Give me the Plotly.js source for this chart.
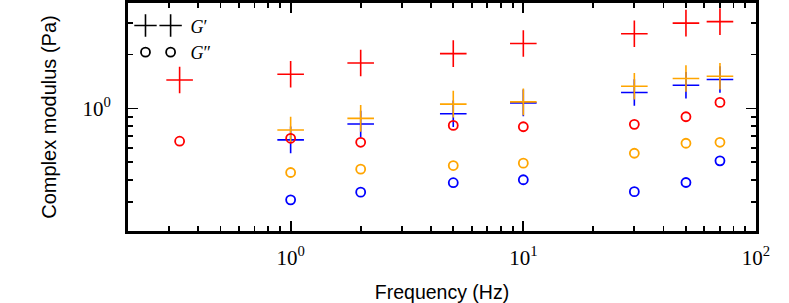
<!DOCTYPE html>
<html>
<head>
<meta charset="utf-8">
<script src="https://cdn.plot.ly/plotly-3.0.1.min.js"></script>
<style>html,body{margin:0;padding:0;background:#fff;}#chart{width:789px;height:303px;}</style>
</head>
<body>
<div id="chart"></div>
<script>
// Frequencies (Hz)
var freqLow = [1/3];
var freq = [1, 2, 5, 10, 30, 50, 70];

// Red sample (also measured at 1/3 Hz)
var redGp_low = [1.44];
var redGpp_low = [0.656];
var redGp  = [1.55, 1.79, 2.02, 2.30, 2.61, 2.99, 3.05];
var redGpp = [0.681, 0.647, 0.804, 0.79, 0.815, 0.898, 1.08];

// Orange sample
var orangeGp  = [0.758, 0.88, 1.056, 1.088, 1.33, 1.468, 1.51];
var orangeGpp = [0.439, 0.458, 0.48, 0.495, 0.562, 0.639, 0.647];

// Blue sample
var blueGp  = [0.667, 0.818, 0.933, 1.074, 1.227, 1.347, 1.45];
var blueGpp = [0.309, 0.341, 0.385, 0.40, 0.343, 0.386, 0.51];

var xTickVals = [1, 10, 100];
var xTickText = ['10<sup>0</sup>', '10<sup>1</sup>', '10<sup>2</sup>'];
var yTickVals = [1];
var yTickText = ['10<sup>0</sup>'];
var legendNames = ['<i>G</i>\u2032', '<i>G</i>\u2033'];

var RED = '#ff0000', ORANGE = '#ffa500', BLUE = '#0000ff';

function crossTrace(x, y, c) {
  return {x: x, y: y, type: 'scatter', mode: 'markers', showlegend: false, hoverinfo: 'skip',
    marker: {symbol: 'cross-thin', size: 19, color: c, line: {color: c, width: 1.6}}};
}
function circTrace(x, y, c) {
  return {x: x, y: y, type: 'scatter', mode: 'markers', showlegend: false, hoverinfo: 'skip',
    marker: {symbol: 'circle-open', size: 9, color: c, line: {color: c, width: 1.8}}};
}
function legTrace(sym, name, leg) {
  var isCross = sym === 'cross-thin';
  return {x: [null], y: [null], type: 'scatter', mode: 'markers', name: name, legend: leg,
    showlegend: true, hoverinfo: 'skip',
    marker: {symbol: sym, size: isCross ? 19 : 9, color: '#000', line: {color: '#000', width: isCross ? 1.6 : 1.8}}};
}

var data = [
  crossTrace(freq, blueGp, BLUE), circTrace(freq, blueGpp, BLUE),
  crossTrace(freq, orangeGp, ORANGE), circTrace(freq, orangeGpp, ORANGE),
  crossTrace(freqLow.concat(freq), redGp_low.concat(redGp), RED),
  circTrace(freqLow.concat(freq), redGpp_low.concat(redGpp), RED),
  legTrace('cross-thin', '', 'legend'), legTrace('cross-thin', legendNames[0], 'legend2'),
  legTrace('circle-open', '', 'legend3'), legTrace('circle-open', legendNames[1], 'legend4')
];

function minorVals(lo, hi) {
  var v = [];
  for (var e = lo; e <= hi; e++) for (var d = 2; d <= 9; d++) v.push(d * Math.pow(10, e));
  return v;
}

var axisCommon = {
  type: 'log', showgrid: false, zeroline: false, showline: true, linecolor: '#000', linewidth: 3,
  mirror: 'ticks', ticks: 'inside', ticklen: 10, tickwidth: 1.8, tickcolor: '#000',
  tickmode: 'array',
  tickfont: {family: 'Liberation Serif, DejaVu Serif, serif', size: 21, color: '#000'}
};

var legCommon = {
  orientation: 'h', bgcolor: 'rgba(0,0,0,0)', borderwidth: 0,
  font: {family: 'Liberation Serif, DejaVu Serif, serif', size: 18, color: '#000'},
  tracegroupgap: 0, itemwidth: 30,
  xanchor: 'left', yanchor: 'middle'
};

var layout = {
  width: 789, height: 303,
  margin: {l: 127.5, r: 32.5, t: 2.5, b: 71.5},
  paper_bgcolor: '#fff', plot_bgcolor: '#fff',
  showlegend: true,
  xaxis: Object.assign({}, axisCommon, {
    range: [Math.log10(0.2), 2],
    tickvals: xTickVals, ticktext: xTickText, ticklabelstandoff: 6,
    minor: {tickmode: 'array', tickvals: minorVals(-1, 1), ticks: 'inside', ticklen: 5, tickwidth: 1.8, tickcolor: '#000'},
    title: {text: 'Frequency (Hz)', font: {family: 'Liberation Sans, Arial, sans-serif', size: 19.5, color: '#000'}, standoff: 21}
  }),
  yaxis: Object.assign({}, axisCommon, {
    range: [-0.684, 0.588],
    tickvals: yTickVals, ticktext: yTickText, ticklabelstandoff: 10,
    minor: {tickmode: 'array', tickvals: minorVals(-1, 0), ticks: 'inside', ticklen: 5, tickwidth: 1.8, tickcolor: '#000'},
    title: {text: 'Complex modulus (Pa)', font: {family: 'Liberation Sans, Arial, sans-serif', size: 20, color: '#000'}, standoff: 21}
  }),
  legend:  Object.assign({}, legCommon, {x: -0.004, y: 0.9}),
  legend2: Object.assign({}, legCommon, {x: 0.036, y: 0.9}),
  legend3: Object.assign({}, legCommon, {x: -0.004, y: 0.783}),
  legend4: Object.assign({}, legCommon, {x: 0.036, y: 0.783})
};

Plotly.newPlot('chart', data, layout, {displayModeBar: false, staticPlot: true});
</script>
</body>
</html>
